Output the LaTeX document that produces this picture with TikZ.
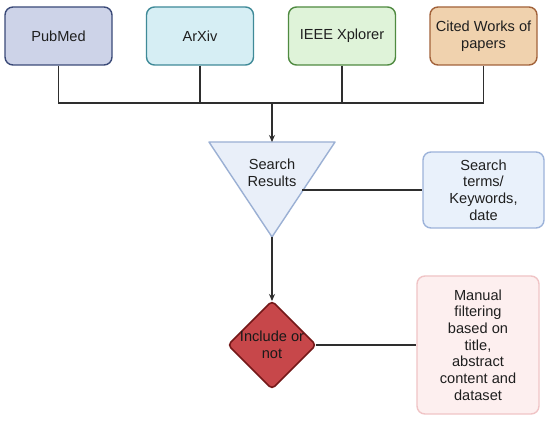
\documentclass[tikz,border=0pt]{standalone}
\usepackage{fontspec}
\setmainfont{Liberation Sans}
\usetikzlibrary{arrows.meta}
\definecolor{linec}{HTML}{2E2E2E}
\definecolor{pmfill}{HTML}{CDD3E8}\definecolor{pmdraw}{HTML}{3B4A78}
\definecolor{axfill}{HTML}{D6EEF4}\definecolor{axdraw}{HTML}{3F8A98}
\definecolor{iefill}{HTML}{DFF3D9}\definecolor{iedraw}{HTML}{4F8A40}
\definecolor{cwfill}{HTML}{F0D2AE}\definecolor{cwdraw}{HTML}{A2623A}
\definecolor{srfill}{HTML}{E9EFF9}\definecolor{srdraw}{HTML}{9BB0D4}
\definecolor{stfill}{HTML}{E9F1FB}\definecolor{stdraw}{HTML}{9DB3DA}
\definecolor{difill}{HTML}{C7474A}\definecolor{didraw}{HTML}{741818}
\definecolor{mffill}{HTML}{FDEFEF}\definecolor{mfdraw}{HTML}{F0C4C6}
\tikzset{
  srcbox/.style={draw, line width=1.4pt, rounded corners=8pt, minimum width=107pt,
    minimum height=58pt, align=center, font=\fontsize{14.6}{17}\selectfont, text=black!88, inner sep=0pt},
  conn/.style={draw=linec, line width=1.2pt},
  arr/.style={conn, -{Stealth[length=7pt,width=6pt]}},
  lbl/.style={align=center, font=\fontsize{14.6}{16.7}\selectfont, text=black!88, inner sep=0pt}
}
\begin{document}
\begin{tikzpicture}[x=1pt,y=-1pt]
\useasboundingbox (0,0) rectangle (550,422);
\fill[white] (0,0) rectangle (550,422);
% source boxes
\node[srcbox, fill=pmfill, draw=pmdraw] (pm) at (58.5,36) {PubMed};
\node[srcbox, fill=axfill, draw=axdraw] (ax) at (200,36) {ArXiv};
\node[srcbox, fill=iefill, draw=iedraw] (ie) at (342,36) {IEEE Xplorer};
\node[srcbox, fill=cwfill, draw=cwdraw] (cw) at (483.5,36) {Cited Works of\\papers};
% triangle
\coordinate (srtop) at (272,142);
\coordinate (srapex) at (272,237);
\coordinate (srright) at (302,190);
\draw[fill=srfill, draw=srdraw, line width=1.4pt, line join=round] (209,142) -- (335,142) -- (srapex) -- cycle;
\node[lbl] (sr) at (272,173) {Search\\Results};
% search terms box
\node[srcbox, fill=stfill, draw=stdraw, minimum width=121pt, minimum height=76pt, font=\fontsize{14.6}{16.7}\selectfont] (st) at (483.5,190) {Search\\terms/\\Keywords,\\date};
% diamond
\coordinate (ditop) at (272,301);
\coordinate (diright) at (316,345);
\draw[fill=difill, draw=didraw, line width=1.6pt, rounded corners=4pt] (272,301) -- (316,345) -- (272,389) -- (228,345) -- cycle;
\node[lbl, text=black!90] (di) at (272,345) {Include or\\not};
% manual filtering box
\node[srcbox, fill=mffill, draw=mfdraw, minimum width=122pt, minimum height=138pt, font=\fontsize{14.6}{16.7}\selectfont] (mf) at (478,345) {Manual\\filtering\\based on\\title,\\abstract\\content and\\dataset};
% connectors
\coordinate (j) at (272,103);
\draw[conn] (pm.south) |- (cw.south |- j) -- (cw.south);
\draw[conn] (ax.south) -- (ax.south |- j);
\draw[conn] (ie.south) -- (ie.south |- j);
\draw[arr] (j) -- (srtop);
\draw[conn] (srright) -- (st.west |- srright);
\draw[arr] (srapex) -- (ditop);
\draw[conn] (diright) -- (mf.west |- diright);
\end{tikzpicture}
\end{document}
